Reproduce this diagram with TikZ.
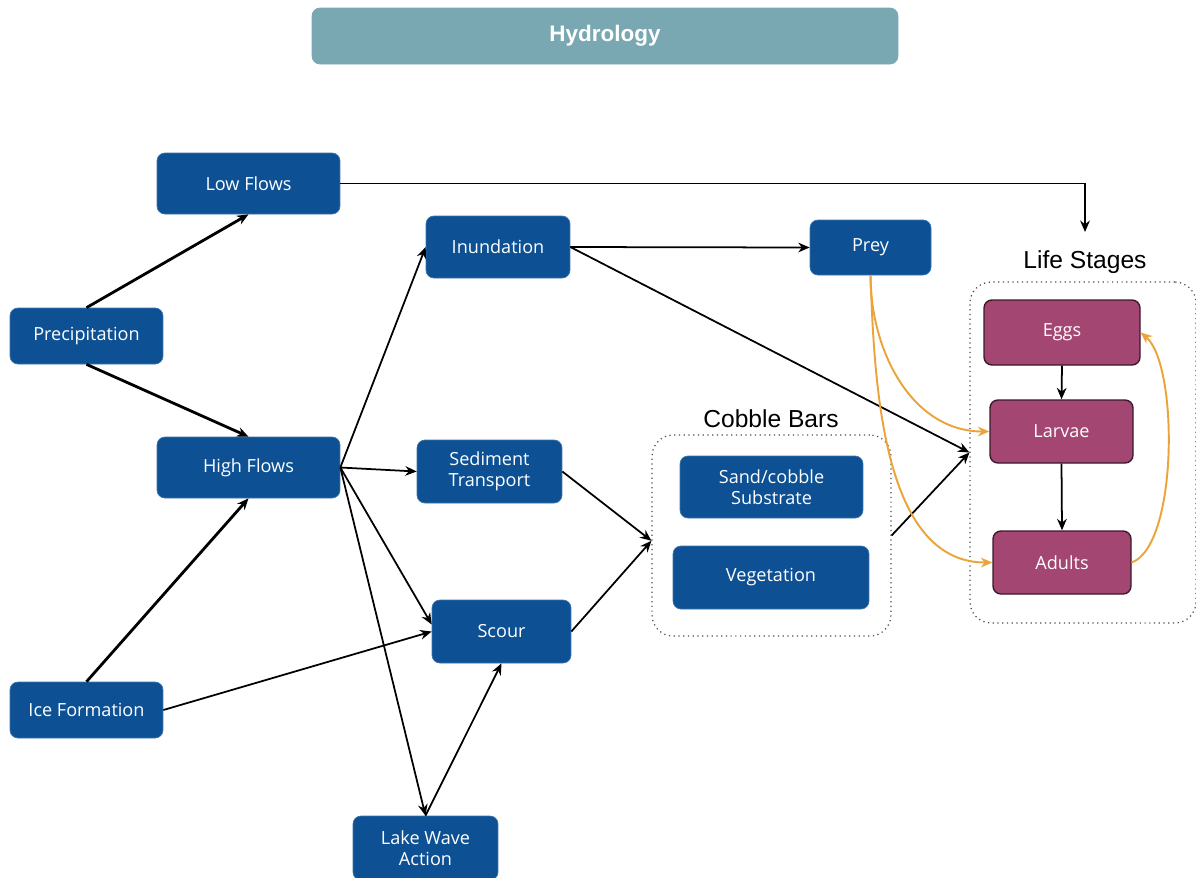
\documentclass[tikz,border=0pt]{standalone}
\usepackage{fontspec}
\setmainfont{Open Sans}
\newfontfamily\arialfont{Liberation Sans}
\usepackage{xcolor}
\usetikzlibrary{positioning,arrows.meta}
\definecolor{boxblue}{HTML}{0D5194}
\definecolor{stagepink}{HTML}{A34672}
\definecolor{stageedge}{HTML}{3B1A2B}
\definecolor{hydroteal}{HTML}{79A8B3}
\definecolor{feedorange}{HTML}{EBA43A}
\tikzset{
  blk/.style={draw=boxblue!80!white, fill=boxblue, rounded corners=4.5pt, text=white,
    align=center, font=\fontsize{10.3}{12}\selectfont, inner sep=2pt},
  stg/.style={blk, draw=stageedge, fill=stagepink, line width=0.8pt},
  grp/.style={draw=black!70, dotted, line width=0.7pt, rounded corners=12pt},
  arr/.style={-{Stealth[length=6.5pt,width=5.5pt]}, line width=1pt},
  tarr/.style={arr, line width=1.6pt},
  oarr/.style={arr, draw=feedorange, line width=1.1pt},
}
\begin{document}
\begin{tikzpicture}[x=0.02cm,y=-0.02cm]
  \useasboundingbox (0,0) rectangle (1196,877);
  \node[blk, fill=hydroteal, draw=hydroteal, minimum width=11.72cm, minimum height=1.12cm,
    font=\arialfont\bfseries\fontsize{12.8}{15}\selectfont] (hydro) at (605,36) {Hydrology};
  % drivers
  \node[blk, minimum width=3.66cm, minimum height=1.22cm] (low) at (248.5,183.5) {Low Flows};
  \node[blk, minimum width=3.06cm, minimum height=1.12cm] (precip) at (86.5,336) {Precipitation};
  \node[blk, minimum width=3.66cm, minimum height=1.22cm] (high) at (248.5,467.5) {High Flows};
  \node[blk, minimum width=3.06cm, minimum height=1.12cm] (ice) at (86.5,710) {Ice Formation};
  % processes
  \node[blk, minimum width=2.88cm, minimum height=1.24cm] (inund) at (498,247) {Inundation};
  \node[blk, minimum width=2.42cm, minimum height=1.1cm] (prey) at (870.5,247.5) {Prey};
  \node[blk, minimum width=2.9cm, minimum height=1.26cm] (sed) at (489.5,471.5) {Sediment\\Transport};
  \node[blk, minimum width=2.78cm, minimum height=1.26cm] (scour) at (501.5,631.5) {Scour};
  \node[blk, minimum width=2.9cm, minimum height=1.28cm] (lake) at (425.5,848) {Lake Wave\\Action};
  % cobble bars
  \node[grp, minimum width=4.78cm, minimum height=4.02cm] (cobble) at (771.5,535.5) {};
  \node[font=\arialfont\fontsize{14}{16}\selectfont] (cobblelab) at (771,419) {Cobble Bars};
  \node[blk, minimum width=3.66cm, minimum height=1.24cm] (sand) at (771.5,487) {Sand/cobble\\Substrate};
  \node[blk, minimum width=3.92cm, minimum height=1.26cm] (veg) at (771,577.5) {Vegetation};
  % life stages
  \node[grp, minimum width=4.52cm, minimum height=6.82cm] (life) at (1083,452.5) {};
  \node[font=\arialfont\fontsize{14}{16}\selectfont] (lifelab) at (1085,262) {Life Stages};
  \node[stg, minimum width=3.12cm, minimum height=1.3cm] (eggs) at (1062,332.5) {Eggs};
  \node[stg, minimum width=2.86cm, minimum height=1.26cm] (larvae) at (1061.5,431.5) {Larvae};
  \node[stg, minimum width=2.76cm, minimum height=1.26cm] (adults) at (1062,562.5) {Adults};
  \coordinate (lifein) at (1085,232);

  \draw[tarr] (precip.north) -- (low.south);
  \draw[tarr] (precip.south) -- (high.north);
  \draw[tarr] (ice.north) -- (high.south);
  \draw[arr] (low.east) -| (lifein);
  \draw[arr] (high.east) -- (inund.west);
  \draw[arr] (high.east) -- (sed.west);
  \draw[arr] (high.east) -- ([yshift=4pt]scour.west);
  \draw[arr] (high.east) -- (lake.north);
  \draw[arr] (ice.east) -- (scour.west);
  \draw[arr] (lake.north) -- (scour.south);
  \draw[arr] (inund.east) -- (prey.west);
  \draw[arr] (inund.east) -- (life.west);
  \draw[arr] (sed.east) -- ([yshift=-3pt]cobble.west);
  \draw[arr] (scour.east) -- ([yshift=-3pt]cobble.west);
  \draw[arr] (cobble.east) -- (life.west);
  \draw[arr] (eggs.south) -- (larvae.north);
  \draw[arr] (larvae.south) -- (adults.north);
  % feeding and recruitment
  \draw[oarr] (prey.south) to[out=-90,in=180] (larvae.west);
  \draw[oarr] (prey.south) to[out=-88,in=180, looseness=0.9] (adults.west);
  \draw[oarr] (adults.east) to[out=20,in=-40, looseness=0.55] (eggs.east);
\end{tikzpicture}
\end{document}
